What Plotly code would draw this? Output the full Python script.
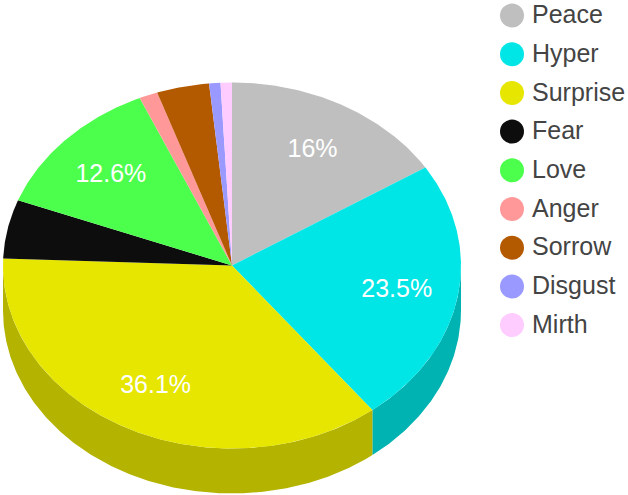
import math
import plotly.graph_objects as go

labels = ["Peace", "Hyper", "Surprise", "Fear", "Love", "Anger", "Sorrow", "Disgust", "Mirth"]
values = [16, 23.5, 36.1, 5.2, 12.6, 1.3, 3.7, 0.8, 0.8]
colors = ["#bfbfbf", "#00e6e6", "#e6e600", "#0d0d0d", "#4dff4d", "#ff9999", "#b35900", "#9999ff", "#ffccff"]
side_colors = ["#999999", "#00b3b3", "#b3b300", "#0a0a0a", "#3dcc3d", "#cc7a7a", "#8f4700", "#7a7acc", "#cca3cc"]

CX, CY, RX, RY, DEPTH = 232, 265.5, 229, 183, 45
LABEL_R = 0.73
LABEL_DY = 2.5
LABEL_MIN = 10
LEG_X, LEG_TEXT_X, LEG_Y0, LEG_DY, LEG_TEXT_DY = 512, 532, 15.5, 38.7, 1.5
FONT = "Liberation Sans, Arial, sans-serif"

W, H = 628, 495
total = sum(values)


def pt(deg, k=1.0, dy=0.0):
    r = math.radians(deg)
    return CX + RX * k * math.sin(r), CY - RY * k * math.cos(r) + dy


def arc(a, b, dy=0.0):
    n = max(2, int(abs(b - a) * 2))
    return [pt(a + (b - a) * i / n, 1.0, dy) for i in range(n + 1)]


fig = go.Figure()
angles = []
acc = 0.0
for v in values:
    start = acc / total * 360
    acc += v
    angles.append((start, acc / total * 360))

# side wall: only the part of each slice's rim facing the viewer (90..270 deg)
for (a, b), side, name in zip(angles, side_colors, labels):
    lo, hi = max(a, 90), min(b, 270)
    if hi <= lo:
        continue
    top = arc(lo, hi)
    bottom = arc(hi, lo, DEPTH)
    pts = top + bottom + [top[0]]
    fig.add_trace(go.Scatter(x=[p[0] for p in pts], y=[p[1] for p in pts], mode="lines",
                             fill="toself", fillcolor=side, line=dict(width=0, color=side),
                             hoverinfo="skip", showlegend=False))

# top face
for (a, b), col, name, v in zip(angles, colors, labels, values):
    pts = [(CX, CY)] + arc(a, b) + [(CX, CY)]
    fig.add_trace(go.Scatter(x=[p[0] for p in pts], y=[p[1] for p in pts], mode="lines",
                             fill="toself", fillcolor=col, line=dict(width=0, color=col),
                             name=name, text=f"{name}: {v:g}%", hoverinfo="text", showlegend=False))

# percentage labels
lx, ly, lt = [], [], []
for (a, b), v in zip(angles, values):
    if v >= LABEL_MIN:
        x, y = pt((a + b) / 2, LABEL_R, LABEL_DY)
        lx.append(x)
        ly.append(y)
        lt.append(f"{v:g}%")
fig.add_trace(go.Scatter(x=lx, y=ly, text=lt, mode="text", textposition="middle center",
                         textfont=dict(family=FONT, size=25, color="#ffffff"),
                         hoverinfo="skip", showlegend=False))

# legend
leg_y = [LEG_Y0 + i * LEG_DY for i in range(len(labels))]
fig.add_trace(go.Scatter(x=[LEG_X] * len(labels), y=leg_y, mode="markers",
                         marker=dict(size=24, color=colors, line=dict(width=0)),
                         cliponaxis=False, hoverinfo="skip", showlegend=False))
fig.add_trace(go.Scatter(x=[LEG_TEXT_X] * len(labels), y=[y + LEG_TEXT_DY for y in leg_y], text=labels,
                         mode="text", textposition="middle right",
                         textfont=dict(family=FONT, size=25, color="#444444"),
                         cliponaxis=False, hoverinfo="skip", showlegend=False))

fig.update_layout(width=W, height=H, margin=dict(l=0, r=0, t=0, b=0), autosize=False,
                  paper_bgcolor="#ffffff", plot_bgcolor="#ffffff", showlegend=False,
                  xaxis=dict(range=[0, W], visible=False, fixedrange=True),
                  yaxis=dict(range=[H, 0], visible=False, fixedrange=True))
fig.write_html("out.html", config={"displayModeBar": False},
               post_script="document.body.style.margin='0';document.documentElement.style.overflow='hidden';")
